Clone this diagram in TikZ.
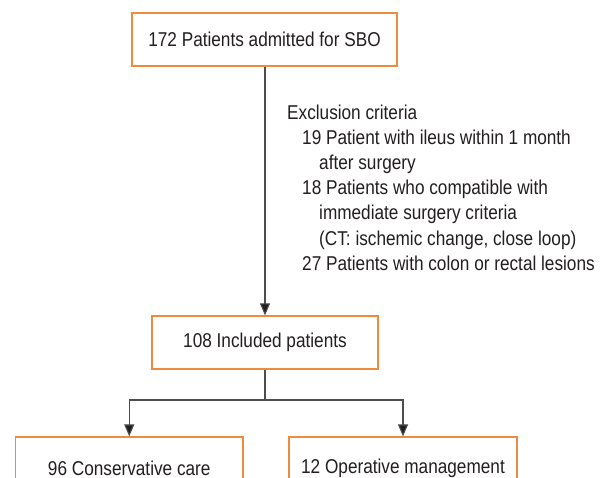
\documentclass[tikz,border=0pt]{standalone}
\usepackage{fontspec}
\setmainfont{Liberation Sans}[FakeStretch=0.86]
\usetikzlibrary{arrows.meta}
\definecolor{boxorange}{HTML}{F08A3C}
\definecolor{txt}{HTML}{231F20}
\definecolor{linegray}{HTML}{4D4D4D}
\begin{document}
\begin{tikzpicture}[x=1pt,y=-1pt,
  box/.style={draw=boxorange,line width=1.2pt,fill=white,text=txt,font=\fontsize{20}{24}\selectfont,inner sep=0pt,anchor=center},
  conn/.style={draw=linegray,line width=1.1pt},
  arr/.style={conn,-{Triangle[width=10pt,length=12pt,fill=txt]}}]
\clip (0,0) rectangle (605,478);
\fill[white] (0,0) rectangle (605,478);
\node[box,minimum width=265pt,minimum height=53pt] (top) at (264.5,39.5) {172 Patients admitted for SBO};
\node[box,minimum width=226pt,minimum height=53pt] (mid) at (265,342.5) {108 Included patients};
\node[box,minimum width=227.5pt,minimum height=62pt] (left) at (129.25,468) {96 Conservative care};
\node[box,minimum width=228pt,minimum height=62pt] (right) at (403,468) {12 Operative management};
\node[anchor=north west,text=txt,font=\fontsize{20}{25.2}\selectfont,align=left,inner sep=0pt] (excl) at (287,104.5) {Exclusion criteria\\
\hspace*{15pt}19 Patient with ileus within 1 month\\
\hspace*{32pt}after surgery\\
\hspace*{15pt}18 Patients who compatible with\\
\hspace*{32pt}immediate surgery criteria\\
\hspace*{32pt}(CT: ischemic change, close loop)\\
\hspace*{15pt}27 Patients with colon or rectal lesions};
\draw[arr] (top.south -| mid.north) -- (mid.north);
\coordinate (split) at (265,400);
\draw[conn] (mid.south) -- (split);
\draw[arr] (split) -| (left.north);
\draw[arr] (split) -| (right.north);
\end{tikzpicture}
\end{document}
